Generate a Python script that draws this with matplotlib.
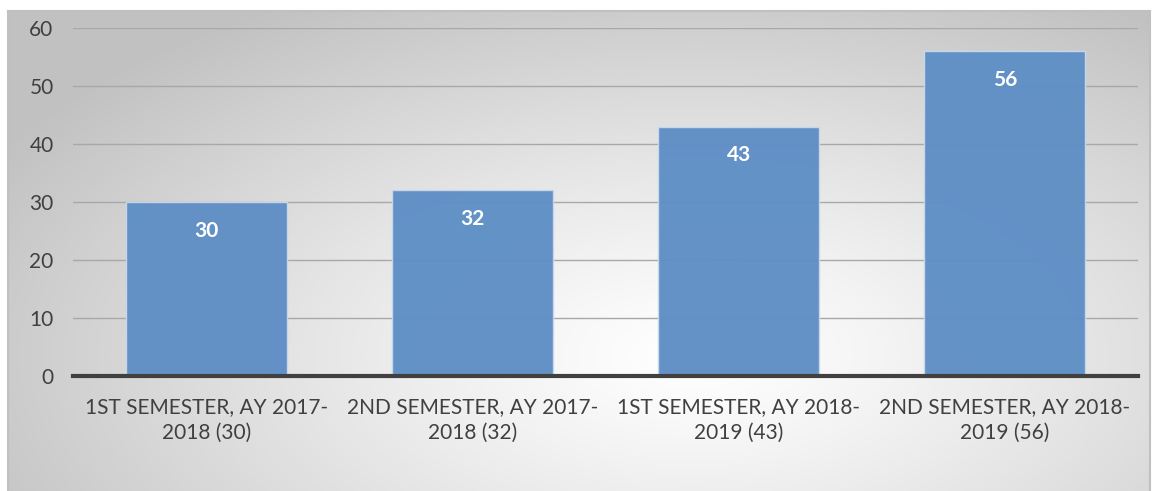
import numpy as np
import matplotlib.pyplot as plt

categories = [
    "1ST SEMESTER, AY 2017-\n2018 (30)",
    "2ND SEMESTER, AY 2017-\n2018 (32)",
    "1ST SEMESTER, AY 2018-\n2019 (43)",
    "2ND SEMESTER, AY 2018-\n2019 (56)",
]
values = [30, 32, 43, 56]
yticks = [0, 10, 20, 30, 40, 50, 60]

plt.rcParams['font.family'] = ['Lato', 'DejaVu Sans']

W, H = 1162, 491
fig = plt.figure(figsize=(W / 100, H / 100), dpi=100)
fig.patch.set_facecolor('white')

# radial gradient background frame
bg = fig.add_axes([8 / W, 0, (1150 - 8) / W, (H - 11) / H])
gx, gy = np.meshgrid(np.linspace(0, 1, 400), np.linspace(0, 1, 200))
d = np.sqrt(((gx - 0.6) / 0.7) ** 2 + ((gy - 0.72) / 0.85) ** 2)
d = np.clip(d, 0, 1)
shade = 1.0 - 0.24 * d ** 1.2
img = np.dstack([shade, shade, shade])
bg.imshow(img, aspect='auto', extent=[0, 1, 0, 1], origin='upper')
bg.set_xticks([])
bg.set_yticks([])
for sp in bg.spines.values():
    sp.set_color('#c0c0c0')
    sp.set_linewidth(1.5)
bg.spines['bottom'].set_visible(False)

ax = fig.add_axes([73 / W, 1 - 376 / H, (1138 - 73) / W, (376 - 28) / H])
ax.patch.set_alpha(0)

x = np.arange(len(values))
bars = ax.bar(x, values, width=0.605, color='#5f8fc6', edgecolor='#c9d8ec',
              linewidth=1.0, zorder=3, alpha=0.97)
for xi, v in zip(x, values):
    ax.text(xi, v - 3.2, str(v), ha='center', va='top', color='white',
            fontsize=15, fontweight='bold', zorder=4)

ax.set_xlim(-0.5, len(values) - 0.5)
ax.set_ylim(0, 60)
ax.set_yticks(yticks)
ax.set_yticklabels([str(t) for t in yticks], fontsize=15, color='#404040')
ax.set_xticks(x)
ax.set_xticklabels(categories, fontsize=15, color='#404040', linespacing=1.35)
ax.tick_params(axis='both', length=0)
ax.tick_params(axis='y', pad=14)
ax.tick_params(axis='x', pad=15)
ax.grid(axis='y', color='#a8a8a8', linewidth=1.0, zorder=1)
for side in ['top', 'right', 'left']:
    ax.spines[side].set_visible(False)
ax.spines['bottom'].set_color('#404040')
ax.spines['bottom'].set_linewidth(3)
ax.spines['bottom'].set_zorder(5)

fig.savefig('out.png', dpi=100)
